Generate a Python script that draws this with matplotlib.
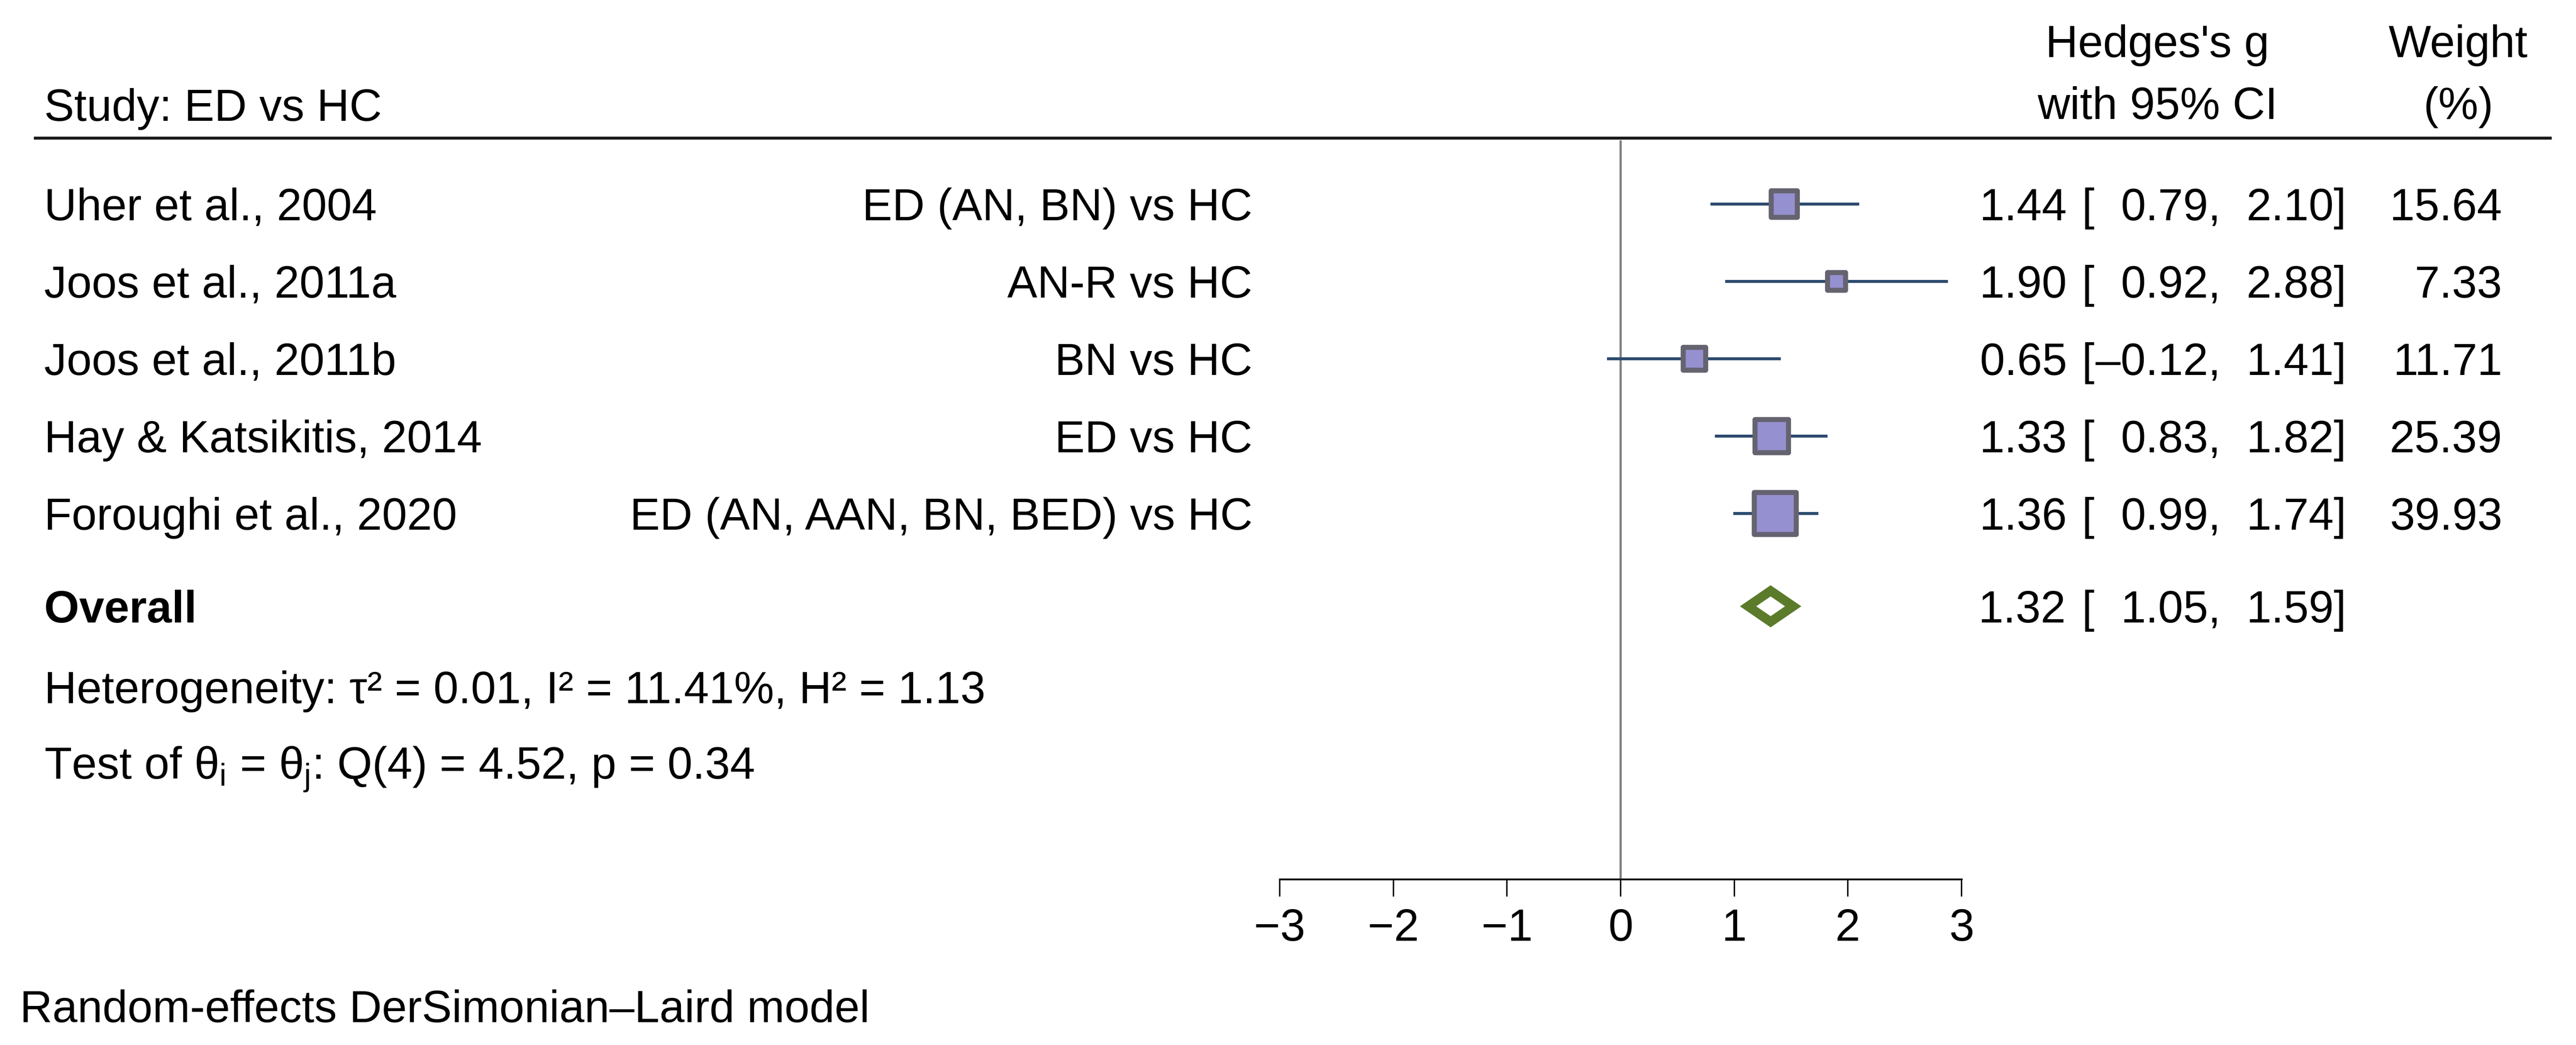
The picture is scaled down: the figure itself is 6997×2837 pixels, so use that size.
import numpy as np
import matplotlib
matplotlib.use("Agg")
import matplotlib.pyplot as plt
from matplotlib.lines import Line2D
from matplotlib.patches import Polygon
from matplotlib.transforms import blended_transform_factory, ScaledTranslation

# ---------------- data ----------------
studies = ["Uher et al., 2004", "Joos et al., 2011a", "Joos et al., 2011b",
           "Hay & Katsikitis, 2014", "Foroughi et al., 2020"]
comparisons = ["ED (AN, BN) vs HC", "AN-R vs HC", "BN vs HC", "ED vs HC",
               "ED (AN, AAN, BN, BED) vs HC"]
effect = [1.44, 1.90, 0.65, 1.33, 1.36]
ci_low = [0.79, 0.92, -0.12, 0.83, 0.99]
ci_high = [2.10, 2.88, 1.41, 1.82, 1.74]
weights = [15.64, 7.33, 11.71, 25.39, 39.93]
overall_label = "Overall"
overall = [1.32, 1.05, 1.59]  # estimate, low, high
xticks = [-3, -2, -1, 0, 1, 2, 3]
heterogeneity = "Heterogeneity: \u03c4\u00b2 = 0.01, I\u00b2 = 11.41%, H\u00b2 = 1.13"
test_text = "Test of $\\theta_{\\mathrm{i}}$ = $\\theta_{\\mathrm{j}}$: Q(4) = 4.52, p = 0.34"
model_text = "Random-effects DerSimonian\u2013Laird model"
study_header = "Study: ED vs HC"

# ---------------- style ----------------
plt.rcParams['font.family'] = ['Liberation Sans', 'DejaVu Sans']
plt.rcParams['mathtext.fontset'] = 'custom'
plt.rcParams['mathtext.rm'] = 'Liberation Sans'
plt.rcParams['mathtext.it'] = 'Liberation Sans'
plt.rcParams['mathtext.bf'] = 'Liberation Sans:bold'

W, H = 6997, 2837
DPI = 100
FS = 88
fig = plt.figure(figsize=(W / DPI, H / DPI), dpi=DPI)
fig.patch.set_facecolor('white')

def fx(px):
    return px / W

def fy(py):
    return 1 - py / H

# plot axes: x -3..3 spans px 3476..5328, y spans px 373..2387
ax_left, ax_right, ax_top, ax_bot = 3476, 5328, 373, 2387
ax = fig.add_axes([fx(ax_left), fy(ax_bot), fx(ax_right - ax_left), (ax_bot - ax_top) / H])
row_px0, row_step = 554, 210.0
ax.set_xlim(-3, 3)
ax.set_ylim(1 + (ax_bot - row_px0) / row_step, 1 - (row_px0 - ax_top) / row_step)
ax.set_facecolor('none')
for s in ['left', 'right', 'top']:
    ax.spines[s].set_visible(False)
ax.spines['bottom'].set_linewidth(3.6)
ax.spines['bottom'].set_color('#111111')
ax.set_yticks([])
ax.set_xticks(xticks)
ax.set_xticklabels([("\u2212%d" % -t) if t < 0 else "%d" % t for t in xticks])
ax.tick_params(axis='x', direction='out', length=34, width=2.9, pad=22,
               labelsize=FS, color='#111111')

rows = np.arange(1, len(studies) + 1)
overall_row = 6.2

# zero line
ax.axvline(0, ymin=0, ymax=(ax_bot - 384) / (ax_bot - ax_top), color='#808080', lw=4.3, zorder=1)

# CI lines
ax.hlines(rows, ci_low, ci_high, color='#2C4A6E', lw=5.8, zorder=2)
# weighted squares
ax.scatter(effect, rows, s=168 * np.array(weights), marker='s', facecolor='#9590D0',
           edgecolor='#65636F', linewidths=9.8, zorder=3)

# overall diamond
est, lo, hi = overall
hh = 0.272
outer = np.array([[lo, overall_row], [est, overall_row - hh], [hi, overall_row], [est, overall_row + hh]])
centre = np.array([est, overall_row])
inner = centre + 0.47 * (outer - centre)
ax.add_patch(Polygon(outer, closed=True, facecolor='#5B7B2B', edgecolor='none', zorder=3))
ax.add_patch(Polygon(inner, closed=True, facecolor='white', edgecolor='none', zorder=4))

# header line
fig.add_artist(Line2D([fx(96), fx(6927)], [fy(375), fy(375)], transform=fig.transFigure,
                      lw=5.8, color='#1a1a1a'))

# text helpers
row_trans = blended_transform_factory(fig.transFigure, ax.transData) + \
    ScaledTranslation(0, -0.437, fig.dpi_scale_trans)

def row_text(xpx, y, s, ha='left', **kw):
    ax.text(fx(xpx), y, s, transform=row_trans, ha=ha, va='baseline', fontsize=FS,
            color='black', clip_on=False, **kw)

def fig_text(xpx, ypx, s, ha='left', **kw):
    fig.text(fx(xpx), fy(ypx), s, ha=ha, va='baseline', fontsize=FS, color='black', **kw)

def fmt(v):
    return ("\u2013%.2f" % -v) if v < 0 else "%.2f" % v

# headers
fig_text(120, 328, study_header)
fig_text(5860, 155, "Hedges's g", ha='center')
fig_text(5860, 323, "with 95% CI", ha='center')
fig_text(6677, 155, "Weight", ha='center')
fig_text(6677, 323, "(%)", ha='center')

for r, name, comp, e, l, h, w in zip(rows, studies, comparisons, effect, ci_low, ci_high, weights):
    row_text(120, r, name)
    row_text(3402, r, comp, ha='right')
    row_text(5615, r, fmt(e), ha='right')
    row_text(5654, r, "[")
    row_text(6032, r, fmt(l) + ",", ha='right')
    row_text(6374, r, fmt(h) + "]", ha='right')
    row_text(6797, r, "%.2f" % w, ha='right')

row_text(120, overall_row, overall_label, fontweight='bold')
row_text(5612, overall_row, fmt(est), ha='right')
row_text(5654, overall_row, "[")
row_text(6032, overall_row, fmt(lo) + ",", ha='right')
row_text(6374, overall_row, fmt(hi) + "]", ha='right')

fig_text(120, 1909, heterogeneity)
fig_text(120, 2114, test_text)
fig_text(54, 2775, model_text)

fig.savefig('out.png', dpi=DPI, facecolor='white')
